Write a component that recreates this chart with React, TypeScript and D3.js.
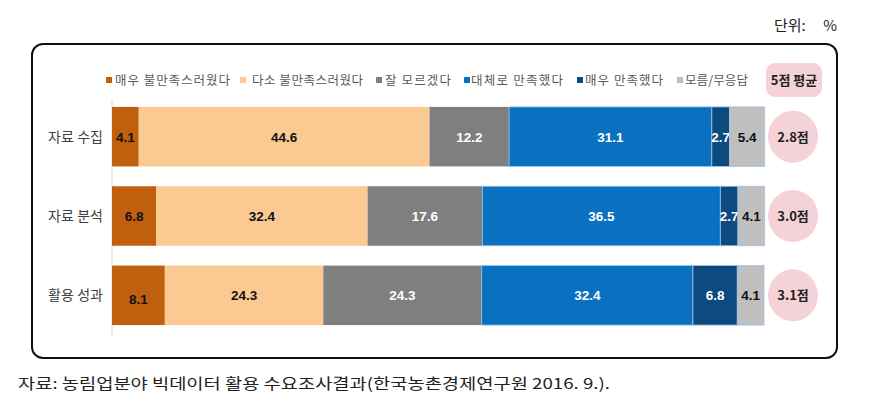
import React from "react";
import * as d3 from "d3";

const categories = ["자료 수집", "자료 분석", "활용 성과"];
const seriesNames = ["매우 불만족스러웠다", "다소 불만족스러웠다", "잘 모르겠다", "대체로 만족했다", "매우 만족했다", "모름/무응답"];
const veryDissatisfied = [4.1, 6.8, 8.1];
const somewhatDissatisfied = [44.6, 32.4, 24.3];
const notSure = [12.2, 17.6, 24.3];
const mostlySatisfied = [31.1, 36.5, 32.4];
const verySatisfied = [2.7, 2.7, 6.8];
const noAnswer = [5.4, 4.1, 4.1];
const averages = ["2.8점", "3.0점", "3.1점"];

const colors = ["#c0600e", "#fbca92", "#7f7f7f", "#0a70c0", "#0d4a80", "#bfbfbf"];
const labelColors = ["#111", "#111", "#fff", "#fff", "#fff", "#111"];

export default function App() {
  const W = 895, H = 417;
  const series = [veryDissatisfied, somewhatDissatisfied, notSure, mostlySatisfied, verySatisfied, noAnswer];
  const x = d3.scaleLinear().domain([0, 100]).range([112, 764]);
  const y = d3.scaleBand().domain(categories).range([97, 335]).paddingInner(0.25).paddingOuter(0.125);
  const font = "'Noto Sans CJK KR', 'Noto Sans', sans-serif";
  const numFont = "'Liberation Sans', Arial, sans-serif";
  const markerX = [109, 243, 379, 467, 580, 680];
  const legendTextX = [115, 252, 385, 471, 585, 685];
  const legendTextW = [115, 111, 66, 92, 78, 63];

  return (
    <svg width={W} height={H} style={{ position: "absolute", left: 0, top: 0 }}>
      <rect width={W} height={H} fill="#fff" />
      <text x={774} y={31} fontFamily={font} fontSize={15} fill="#222">단위:</text>
      <text x={837} y={31} textAnchor="end" fontFamily={font} fontSize={15} fill="#222">%</text>
      <rect x={32} y={44} width={805} height={314} rx={11} fill="#fff" stroke="#111" strokeWidth={2} />
      {seriesNames.map((n, i) => (
        <g key={n}>
          <rect x={markerX[i] - 3} y={77} width={6} height={6} fill={colors[i]} />
          <text x={legendTextX[i]} y={84.5} fontFamily={font} fontSize={12.5} fill="#595959" textLength={legendTextW[i]} lengthAdjust="spacing">{n}</text>
        </g>
      ))}
      <rect x={766} y={63} width={56} height={34} rx={9} fill="#f4d2d8" />
      <text x={794} y={85} textAnchor="middle" fontFamily={font} fontSize={13} fontWeight="bold" fill="#222">5점 평균</text>
      <line x1={112} x2={112} y1={100} y2={336} stroke="#d9d9d9" strokeWidth={1} />
      {categories.map((c, ci) => {
        let acc = 0;
        const yy = y(c)!;
        const bh = y.bandwidth();
        return (
          <g key={c}>
            <text x={103} y={yy + bh / 2 + 5} textAnchor="end" fontFamily={font} fontSize={14} fill="#404040" textLength={55} lengthAdjust="spacing">{c}</text>
            {series.map((s, si) => {
              const v = s[ci];
              const x0 = x(acc);
              acc += v;
              const x1 = x(acc);
              return (
                <g key={si}>
                  <rect x={x0} y={yy} width={x1 - x0} height={bh} fill={colors[si]} stroke={si >= 3 ? "#9cc3e6" : "none"} strokeWidth={si >= 3 ? 0.8 : 0} />
                  <text x={(x0 + x1) / 2} y={yy + bh / 2 + 5 + (ci === 2 && si === 0 ? 4 : 0)} textAnchor="middle" fontFamily={numFont} fontSize={13.5} fontWeight="bold" fill={labelColors[si]}>{v.toFixed(1)}</text>
                </g>
              );
            })}
            <ellipse cx={793} cy={yy + bh / 2} rx={25} ry={26} fill="#f4d2d8" />
            <text x={793} y={yy + bh / 2 + 5} textAnchor="middle" fontFamily={font} fontSize={13} fontWeight="bold" fill="#222">{averages[ci]}</text>
          </g>
        );
      })}
      <text x={18} y={389} fontFamily={font} fontSize={15} fill="#222" textLength={592} lengthAdjust="spacingAndGlyphs">자료: 농림업분야 빅데이터 활용 수요조사결과(한국농촌경제연구원 2016. 9.).</text>
    </svg>
  );
}
